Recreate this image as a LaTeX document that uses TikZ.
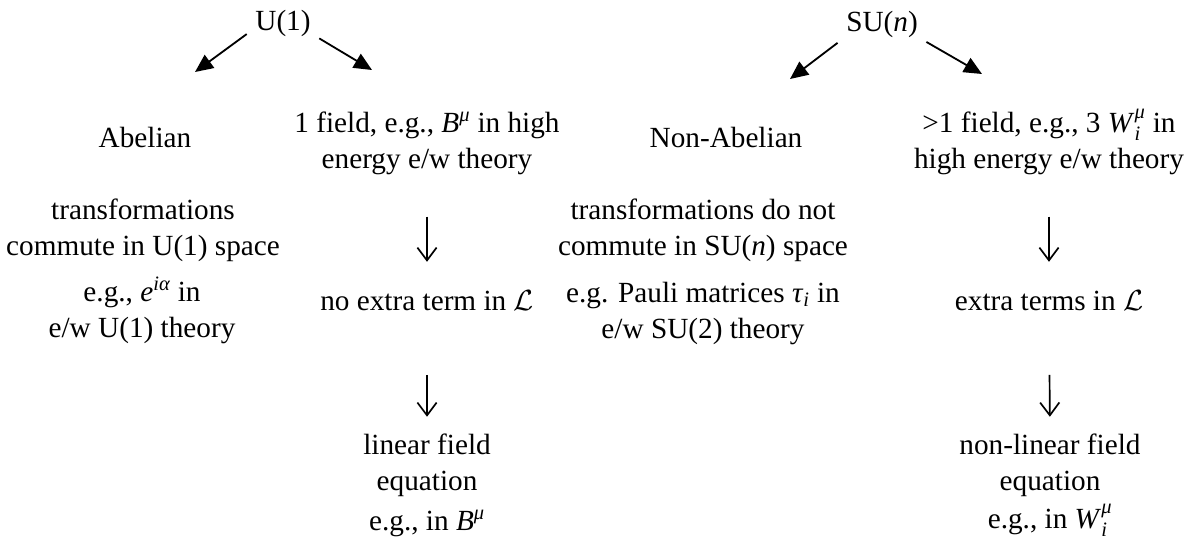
\documentclass[tikz,border=0pt]{standalone}
\usepackage{amsmath}
\usepackage{fontspec}
\setmainfont{Liberation Serif}
\usepackage{tikz}
\usetikzlibrary{arrows.meta}
\newcommand{\diagfont}{\fontsize{20.8}{25.3}\selectfont}

\begin{document}
\begin{tikzpicture}[
    x=0.025cm, y=-0.025cm,
    grp/.style={font=\diagfont, inner sep=0.21cm},
    lbl/.style={font=\diagfont, align=center, inner sep=0pt, anchor=base},
    split/.style={-{Triangle[length=0.45cm, width=0.4cm]}, line width=1.3pt},
    down/.style={-{Straight Barb[length=0.32cm, width=0.48cm]}, line width=1.2pt}
]
\useasboundingbox (0,0) rectangle (1191,539);

% Groups
\node[grp] (u1) at (283,23) {U(1)};
\node[grp] (sun) at (882,24) {SU(\textit{n})};

% U(1) branch (multi-line labels sit on their last baseline)
\node[lbl] (abel) at (145,147) {Abelian};
\node[lbl] (onef) at (427,168) {1 field, e.g., \textit{B}$^{\textit{μ}}$ in high\\energy e/w theory};
\node[lbl] (comm) at (143,255) {transformations\\commute in U(1) space};
\node[lbl] (uex) at (142,337) {e.g., \textit{e}$^{\textit{iα}}$ in\\e/w U(1) theory};
\node[lbl] (noext) at (427,310) {no extra term in $\mathcal{L}$};
\node[lbl] (lin) at (427,490) {linear field\\equation};
\node[lbl] (linex) at (427,530) {e.g., in \textit{B}$^{\textit{μ}}$};

% SU(n) branch
\node[lbl] (nonabel) at (726,147) {Non-Abelian};
\node[lbl] (manyf) at (1049,168) {>1 field, e.g., 3 \textit{W}$_{\textit{i}}^{\textit{μ}}$ in\\high energy e/w theory};
\node[lbl] (sucomm) at (703,255) {transformations do not\\commute in SU(\textit{n}) space};
\node[lbl] (suex) at (703,338) {e.g. Pauli matrices \textit{τ}$_{\textit{i}}$ in\\e/w SU(2) theory};
\node[lbl] (ext) at (1049,310) {extra terms in $\mathcal{L}$};
\node[lbl] (nonlin) at (1050,490) {non-linear field\\equation};
\node[lbl] (nonlinex) at (1050,528) {e.g., in \textit{W}$_{\textit{i}}^{\textit{μ}}$};

% Arrow tips
\coordinate (abtip) at (195,72);
\coordinate (oneftip) at (372,70);
\coordinate (natip) at (790,79);
\coordinate (mftip) at (982,74);

% Arrows
\draw[split] (u1.197) -- (abtip);
\draw[split] (u1.337) -- (oneftip);
\draw[split] (sun.203) -- (natip);
\draw[split] (sun.338) -- (mftip);
\draw[down, shorten <=1.05cm, shorten >=0.7cm] (onef.south) -- (noext.north);
\draw[down, shorten <=1.61cm, shorten >=0.42cm] (noext.south) -- (lin.north);
\draw[down, shorten <=1.05cm, shorten >=0.7cm] (manyf.south) -- (ext.north);
\draw[down, shorten <=1.61cm, shorten >=0.42cm] (ext.south) -- (nonlin.north);

\end{tikzpicture}
\end{document}
